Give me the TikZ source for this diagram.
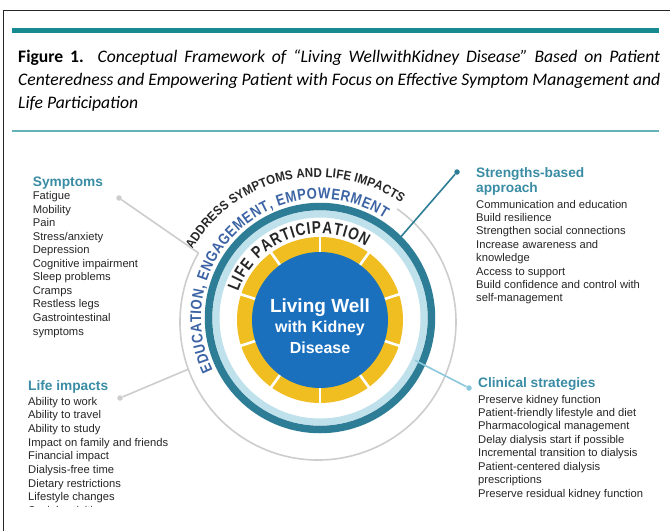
\documentclass[tikz,border=0pt]{standalone}
\usepackage{fontspec}
\setmainfont{Liberation Sans}
\newfontfamily\capfont{Carlito}
\newfontfamily\arcfont[FakeStretch=0.8]{Liberation Sans}
\newfontfamily\arcfontm[FakeStretch=0.84]{Liberation Sans}
\newfontfamily\arcfontb[FakeStretch=0.9]{Liberation Sans}
\usetikzlibrary{decorations.text,calc}
\definecolor{tealbar}{RGB}{22,138,142}
\definecolor{tealthin}{RGB}{100,178,184}
\definecolor{headc}{RGB}{58,140,165}
\definecolor{itemc}{RGB}{38,38,38}
\definecolor{discblue}{RGB}{27,112,190}
\definecolor{ringyel}{RGB}{240,190,32}
\definecolor{ringteal}{RGB}{45,125,150}
\definecolor{ringlight}{RGB}{190,225,235}
\definecolor{edublue}{RGB}{60,100,165}
\definecolor{graycirc}{RGB}{205,205,205}
\definecolor{lineblue}{RGB}{140,200,220}
\tikzset{
 item/.style={anchor=base west, inner sep=0pt, font=\fontsize{11.2}{13}\selectfont, text=itemc},
 head/.style={anchor=base west, inner sep=0pt, font=\bfseries\fontsize{13.7}{15}\selectfont, text=headc},
 dotnode/.style={circle, fill=#1, inner sep=0pt, minimum size=5.5pt},
 conn/.style={line width=1.6pt, draw=#1},
 centertext/.style={anchor=base, inner sep=0pt, text=white},
 captext/.style={anchor=base west, inner sep=0pt, font=\capfont\fontsize{17.6}{21}\selectfont},
}
\begin{document}
\begin{tikzpicture}[x=1pt,y=1pt]
\useasboundingbox (0,0) rectangle (670,-531);
\fill[white] (0,0) rectangle (670,-531);
% frame
\draw[line width=1pt, black!85] (3,-531) -- (3,-10) -- (670,-10);
\fill[tealbar] (12,-28) rectangle (659,-33);
\draw[tealthin, line width=1.2pt] (12,-131) -- (659,-131);
% caption
\node[captext] (cap1) at (18,-62)
 {\makebox[642pt][s]{\textbf{Figure 1.} \textit{Conceptual Framework of “Living WellwithKidney Disease” Based on Patient}}};
\node[captext] (cap2) at (18,-85)
 {\makebox[642pt][s]{\textit{Centeredness and Empowering Patient with Focus on Effective Symptom Management and}}};
\node[captext] (cap3) at (18,-108)
 {\textit{Life Participation}};

% circle centres
\coordinate (Ci) at (320,-320);
\coordinate (Co) at (320,-318);
\coordinate (Cg) at (318,-322);

% gray outer circle
\draw[graycirc, line width=1.6pt] ($(Cg)+(150:138)$) arc[start angle=150, end angle=415, radius=138];
% rings
\draw[ringlight, line width=7pt] (Co) circle[radius=104];
\draw[ringteal, line width=7.5pt] (Co) circle[radius=111.5];
% yellow ring with gaps
\fill[ringyel, even odd rule] (Ci) circle[radius=83] (Ci) circle[radius=66];
\foreach \k in {0,...,9}
  \draw[white, line width=2.6pt] ($(Ci)+(90+36*\k:64)$) -- ($(Ci)+(90+36*\k:85)$);
\fill[discblue] (Ci) circle[radius=68];

% centre text
\node[centertext, font=\bfseries\fontsize{19}{19}\selectfont] (lw1) at (320,-312) {Living Well};
\node[centertext, font=\bfseries\fontsize{16}{16}\selectfont] (lw2) at (320,-332) {with Kidney};
\node[centertext, font=\bfseries\fontsize{16}{16}\selectfont] (lw3) at (320,-353) {Disease};

% curved texts
\path[font=\arcfont\bfseries\fontsize{17}{17}\selectfont, decorate, decoration={text along path, text align={fit to path},
  text={|\arcfont\bfseries\fontsize{17}{17}\selectfont\color{itemc}|LIFE PARTICIPATION}}]
  ($(Ci)+(161:86.5)$) arc[start angle=161, end angle=58, radius=86.5];
\path[font=\arcfontm\bfseries\fontsize{15.5}{15.5}\selectfont, decorate, decoration={text along path, text align={fit to path},
  text={|\arcfontm\bfseries\fontsize{15.5}{15.5}\selectfont\color{edublue}|EDUCATION, ENGAGEMENT, EMPOWERMENT}}]
  ($(Co)+(206:119)$) arc[start angle=206, end angle=57, radius=119];
\path[font=\arcfontb\bfseries\fontsize{12.8}{12.8}\selectfont, decorate, decoration={text along path, text align={fit to path},
  text={|\arcfontb\bfseries\fontsize{12.8}{12.8}\selectfont\color{itemc}|ADDRESS SYMPTOMS AND LIFE IMPACTS}}]
  ($(Cg)+(150:145)$) arc[start angle=150, end angle=55, radius=145];

% connectors
\node[dotnode=graycirc] (dsym) at (119,-198) {};
\coordinate (esym) at ($(Cg)+(150:138)$);
\draw[conn=graycirc] (dsym) -- (esym);
\node[dotnode=graycirc] (dlife) at (120,-398) {};
\coordinate (elife) at ($(Cg)+(200:138)$);
\draw[conn=graycirc] (dlife) -- (elife);
\node[dotnode=ringteal] (dstr) at (457,-172) {};
\coordinate (estr) at ($(Co)+(45:111.5)$);
\draw[conn=ringteal] (dstr) -- (estr);
\node[dotnode=lineblue] (dcli) at (469,-388) {};
\coordinate (ecli) at ($(Co)+(-24:104)$);
\draw[conn=lineblue] (dcli) -- (ecli);

% Symptoms
\node[head] (hsym) at (32.7,-186) {Symptoms};
\foreach \t [count=\i from 0] in {Fatigue,Mobility,Pain,Stress/anxiety,Depression,Cognitive impairment,Sleep problems,Cramps,Restless legs,Gastrointestinal,symptoms}
  \node[item] (sy\i) at (32.7,{-199.5-13.55*\i}) {\t};

% Life impacts
\node[head] (hlife) at (28,-390) {Life impacts};
\foreach \t [count=\i from 0] in {Ability to work,Ability to travel,Ability to study,Impact on family and friends,Financial impact,Dialysis-free time,Dietary restrictions,Lifestyle changes}
  \node[item] (li\i) at (28,{-405-13.7*\i}) {\t};
\begin{scope}
  \clip (0,-480) rectangle (300,-506.5);
  \node[item] (li8) at (28,{-405-13.7*8}) {Social activities};
\end{scope}

% Strengths-based approach
\node[head] (hstr1) at (476,-177) {Strengths-based};
\node[head] (hstr2) at (476,-192) {approach};
\foreach \t [count=\i from 0] in {Communication and education,Build resilience,Strengthen social connections,Increase awareness and,knowledge,Access to support,Build confidence and control with,self-management}
  \node[item] (st\i) at (476,{-208-13.4*\i}) {\t};

% Clinical strategies
\node[head] (hcli) at (478,-387) {Clinical strategies};
\foreach \t [count=\i from 0] in {Preserve kidney function,Patient-friendly lifestyle and diet,Pharmacological management,Delay dialysis start if possible,Incremental transition to dialysis,Patient-centered dialysis,prescriptions,Preserve residual kidney function}
  \node[item] (cl\i) at (478,{-403-13.45*\i}) {\t};
\end{tikzpicture}
\end{document}
